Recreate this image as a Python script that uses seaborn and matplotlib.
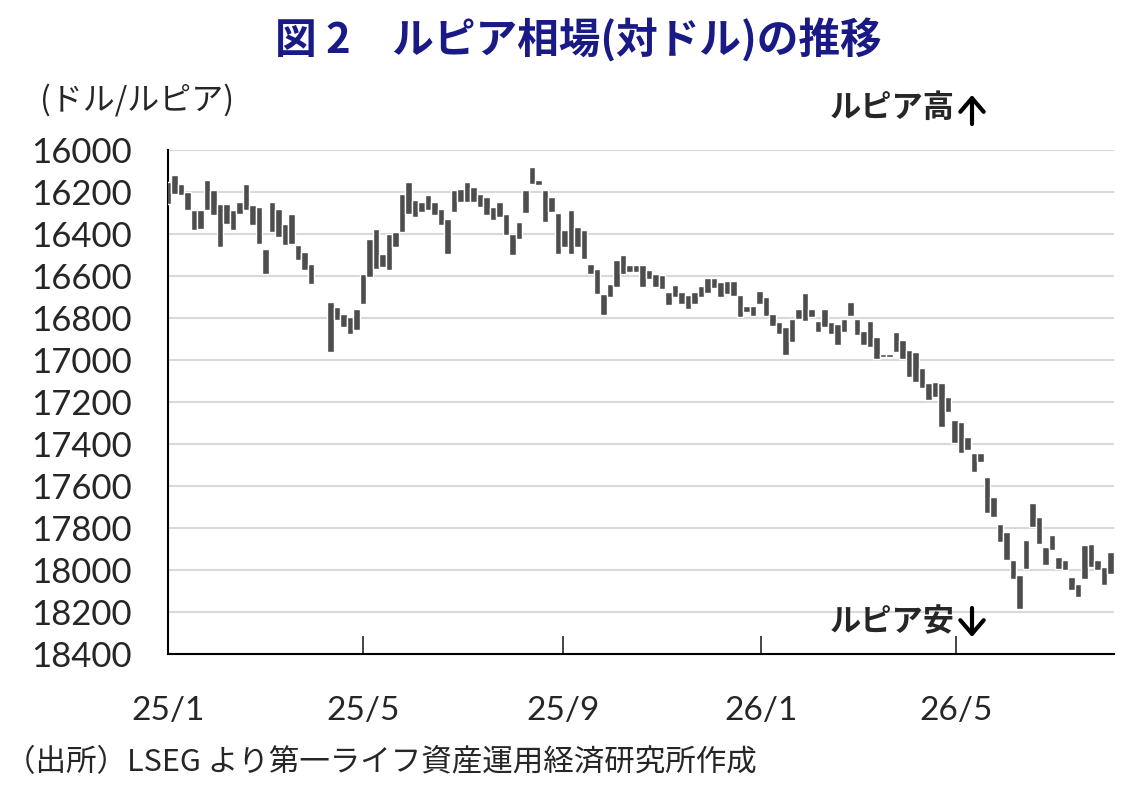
import matplotlib
matplotlib.use("Agg")
import matplotlib.pyplot as plt
from matplotlib.patches import FancyArrowPatch
import numpy as np
import pandas as pd
import seaborn as sns

# ルピア相場（ドル/ルピア）: 4日ごとの安値・高値
start_date = "2025-01-01"
step = "4D"
nan = np.nan
rate_low = [
    16152, 16121, 16160, 16200, 16287, 16287, 16144, 16192, 16256, 16256,
    16287, 16248, 16160, 16263, 16271, 16470, 16248, 16279, 16351, 16303,
    16454, 16486, 16541, nan, nan, 16724, 16748, 16779, 16795, 16755,
    16589, 16422, 16375, 16494, 16400, 16390, 16208, 16152, 16240, 16248,
    16216, 16248, 16279, 16327, 16192, 16184, 16152, 16176, 16208, 16224,
    16271, 16248, 16303, 16400, 16343, 16192, 16081, 16144, 16192, 16224,
    16300, 16383, 16287, 16367, 16380, 16541, 16565, 16684, 16636, 16525,
    16502, 16549, 16549, 16549, 16573, 16589, 16597, 16676, 16644, 16676,
    16692, 16676, 16647, 16608, 16608, 16631, 16624, 16624, 16690, 16742,
    16742, 16671, 16702, 16781, 16820, 16844, 16805, 16758, 16679, 16758,
    16813, 16758, 16820, 16828, 16805, 16726, 16805, 16860, 16813, 16891,
    16970, 16970, 16865, 16905, 16952, 16960, 17040, 17111, 17103, 17111,
    17175, 17286, 17294, 17365, 17445, 17445, 17556, 17651, 17779, 17818,
    17953, 18025, 17858, 17683, 17747, 17890, 17834, 17938, 17953, 18033,
    18065, 17882, 17874, 17953, 17985, 17914,
]
rate_high = [
    16256, 16208, 16216, 16287, 16383, 16375, 16287, 16311, 16462, 16351,
    16383, 16303, 16287, 16359, 16446, 16589, 16390, 16414, 16454, 16446,
    16525, 16573, 16636, nan, nan, 16962, 16811, 16843, 16874, 16859,
    16732, 16605, 16565, 16557, 16570, 16462, 16390, 16303, 16319, 16295,
    16287, 16311, 16359, 16494, 16295, 16248, 16248, 16248, 16271, 16311,
    16335, 16319, 16406, 16502, 16422, 16300, 16160, 16168, 16343, 16295,
    16494, 16462, 16494, 16462, 16517, 16589, 16684, 16787, 16700, 16652,
    16589, 16581, 16581, 16652, 16613, 16652, 16660, 16740, 16700, 16732,
    16756, 16732, 16700, 16679, 16655, 16702, 16687, 16695, 16797, 16773,
    16789, 16734, 16789, 16836, 16876, 16978, 16915, 16805, 16813, 16797,
    16868, 16844, 16876, 16931, 16868, 16789, 16883, 16931, 16939, 16994,
    16986, 16986, 16960, 16994, 17079, 17103, 17135, 17191, 17175, 17318,
    17246, 17397, 17445, 17429, 17532, 17485, 17731, 17747, 17866, 17953,
    18041, 18184, 17993, 17795, 17874, 17977, 17906, 17993, 18001, 18096,
    18128, 18041, 17985, 18001, 18070, 18017,
]
tick_dates = ["2025-01-01", "2025-05-01", "2025-09-01", "2026-01-01", "2026-05-01"]
tick_labels = ["25/1", "25/5", "25/9", "26/1", "26/5"]
y_ticks = list(range(16000, 18401, 200))

sns.set_style("white")
plt.rcParams["font.family"] = ["Lato", "Noto Sans CJK JP", "DejaVu Sans"]
jp = ["Noto Sans CJK JP", "DejaVu Sans"]

df = pd.DataFrame({
    "date": pd.date_range(start_date, periods=len(rate_low), freq=step),
    "low": rate_low,
    "high": rate_high,
}).dropna()

fig = plt.figure(figsize=(11.32, 7.96), dpi=100)
ax = fig.add_axes([0.1484, 0.1784, 0.8357, 0.6332])

ax.bar(df["date"], df["high"] - df["low"], bottom=df["low"], width=4.0,
       color="#4d4d4d", zorder=3)

ax.set_ylim(18400, 16000)
ax.set_yticks(y_ticks)
ax.set_xlim(pd.Timestamp("2025-01-01"), pd.Timestamp("2026-08-06"))
ax.set_xticks(pd.to_datetime(tick_dates))
ax.set_xticklabels(tick_labels)

ax.yaxis.grid(True, color="#d9d9d9", lw=1.5)
ax.xaxis.grid(False)
for side in ["top", "right"]:
    ax.spines[side].set_visible(False)
for side in ["left", "bottom"]:
    ax.spines[side].set_color("black")
    ax.spines[side].set_linewidth(1.5)

ax.tick_params(axis="x", direction="in", length=13, width=1.2, pad=30, labelsize=24, bottom=True)
ax.tick_params(axis="y", length=0, pad=26, labelsize=25)
ax.set_xlabel("")
ax.set_ylabel("")

# タイトル・注記
fig.text(0.5106, 0.9497, "図 2　ルピア相場(対ドル)の推移", ha="center", va="center",
         fontsize=30, fontweight="bold", color="#1a1a86", family=jp)
fig.text(0.0353, 0.874, "(ドル/ルピア)", ha="left", va="center", fontsize=23, family=jp)
fig.text(0.733, 0.8643, "ルピア高", ha="left", va="center", fontsize=22.5,
         fontweight="bold", family=jp)
fig.text(0.733, 0.2186, "ルピア安", ha="left", va="center", fontsize=22.5,
         fontweight="bold", family=jp)
fig.text(0.0044, 0.0415, "（出所）LSEG より第一ライフ資産運用経済研究所作成",
         ha="left", va="center", fontsize=22, family=jp)

# 矢印（↑・↓）
arrow_style = dict(arrowstyle="->,head_length=0.35,head_width=0.3", lw=3, color="black",
                   shrinkA=0, shrinkB=0, mutation_scale=28)
fig.add_artist(FancyArrowPatch(
    (972 / 1132, 1 - 124 / 796), (972 / 1132, 1 - 95 / 796),
    transform=fig.transFigure, **arrow_style))
fig.add_artist(FancyArrowPatch(
    (972 / 1132, 1 - 608 / 796), (972 / 1132, 1 - 637 / 796),
    transform=fig.transFigure, **arrow_style))

fig.savefig("out.png", dpi=100)
